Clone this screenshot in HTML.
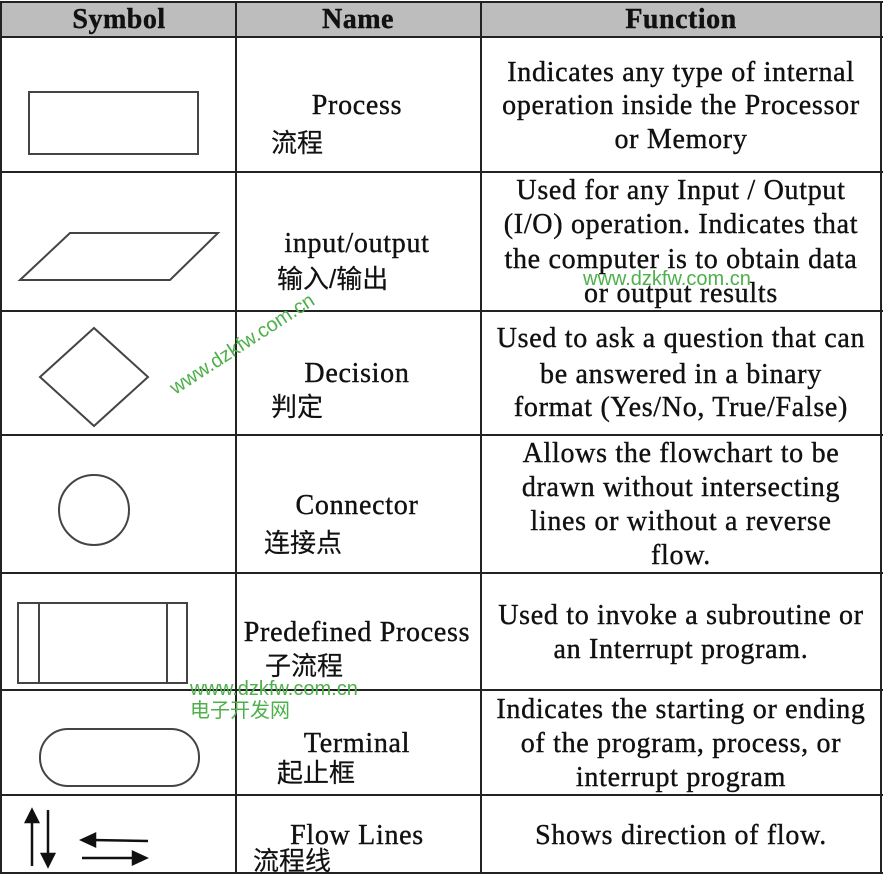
<!DOCTYPE html>
<html><head><meta charset="utf-8"><style>
body{margin:0;width:883px;height:878px;background:#fff;overflow:hidden;position:relative;font-family:"Liberation Serif","Noto Serif CJK SC",serif;color:#111}
.t{position:absolute;font-size:28px;letter-spacing:0.7px;white-space:nowrap;line-height:1;-webkit-text-stroke:0.4px #111}
.c{transform:translateX(-50%)}
.h{font-weight:bold;font-size:28px;letter-spacing:0.5px}
.z{font-family:"Liberation Sans","Noto Sans CJK SC",sans-serif;font-size:26px;letter-spacing:0;-webkit-text-stroke:0.2px #111}
.w{position:absolute;color:#4db04a;font-family:"Liberation Sans","Noto Sans CJK SC",sans-serif;font-size:20px;white-space:nowrap;line-height:1}
</style></head><body>
<svg width="883" height="878" style="position:absolute;left:0;top:0">
<rect x="1" y="2" width="880" height="35" fill="#bdbdbd"/>
<g stroke="#222" stroke-width="2" fill="none">
<line x1="0" y1="2" x2="883" y2="2"/><line x1="0" y1="37" x2="883" y2="37"/>
<line x1="0" y1="172" x2="883" y2="172"/><line x1="0" y1="311" x2="883" y2="311"/>
<line x1="0" y1="435" x2="883" y2="435"/><line x1="0" y1="573" x2="883" y2="573"/>
<line x1="0" y1="690" x2="883" y2="690"/><line x1="0" y1="795" x2="883" y2="795"/>
<line x1="0" y1="873" x2="883" y2="873"/>
<line x1="1" y1="2" x2="1" y2="873"/><line x1="236" y1="2" x2="236" y2="873"/>
<line x1="481" y1="2" x2="481" y2="873"/><line x1="881" y1="2" x2="881" y2="873"/>
</g>
<g stroke="#444" stroke-width="2" fill="none">
<rect x="29" y="92" width="169" height="62"/>
<polygon points="20,280 70,233 218,233 170,280"/>
<polygon points="40,377 94,328 148,377 94,426"/>
<circle cx="94" cy="510" r="35"/>
<rect x="18" y="603" width="169" height="80"/>
<line x1="39" y1="603" x2="39" y2="683"/><line x1="167" y1="603" x2="167" y2="683"/>
<rect x="40" y="729" width="159" height="57" rx="28"/>
</g>
<g stroke="#111" stroke-width="2.5" fill="#111">
<line x1="32" y1="866" x2="32" y2="818"/><polygon points="26,822 32,810 38,822"/>
<line x1="48" y1="810" x2="48" y2="858"/><polygon points="42,854 48,866 54,854"/>
<line x1="148" y1="841" x2="92" y2="840"/><polygon points="95,834 82,840 95,846"/>
<line x1="82" y1="858" x2="136" y2="858"/><polygon points="133,852 146,858 133,864"/>
</g>
</svg>
<div class="t h c" style="left:119px;top:6px">Symbol</div>
<div class="t h c" style="left:358px;top:6px">Name</div>
<div class="t h c" style="left:681px;top:6px">Function</div>

<div class="t c" style="left:357px;top:92px">Process</div>
<div class="t z" style="left:271px;top:130px">流程</div>
<div class="t c" style="left:357px;top:230px">input/output</div>
<div class="t z" style="left:277px;top:266px">输入/输出</div>
<div class="t c" style="left:357px;top:360px">Decision</div>
<div class="t z" style="left:271px;top:394px">判定</div>
<div class="t c" style="left:357px;top:492px">Connector</div>
<div class="t z" style="left:264px;top:530px">连接点</div>
<div class="t c" style="left:357px;top:619px">Predefined Process</div>
<div class="t z" style="left:265px;top:653px">子流程</div>
<div class="t c" style="left:357px;top:730px">Terminal</div>
<div class="t z" style="left:277px;top:760px">起止框</div>
<div class="t c" style="left:357px;top:822px">Flow Lines</div>
<div class="t z" style="left:253px;top:848px">流程线</div>

<div class="t c" style="left:681px;top:59px">Indicates any type of internal</div>
<div class="t c" style="left:681px;top:92px">operation inside the Processor</div>
<div class="t c" style="left:681px;top:126px">or Memory</div>
<div class="t c" style="left:681px;top:177px">Used for any Input / Output</div>
<div class="t c" style="left:681px;top:211px">(I/O) operation. Indicates that</div>
<div class="t c" style="left:681px;top:246px">the computer is to obtain data</div>
<div class="t c" style="left:681px;top:280px">or output results</div>
<div class="t c" style="left:681px;top:325px">Used to ask a question that can</div>
<div class="t c" style="left:681px;top:361px">be answered in a binary</div>
<div class="t c" style="left:681px;top:394px">format (Yes/No, True/False)</div>
<div class="t c" style="left:681px;top:440px">Allows the flowchart to be</div>
<div class="t c" style="left:681px;top:474px">drawn without intersecting</div>
<div class="t c" style="left:681px;top:508px">lines or without a reverse</div>
<div class="t c" style="left:681px;top:542px">flow.</div>
<div class="t c" style="left:681px;top:602px">Used to invoke a subroutine or</div>
<div class="t c" style="left:681px;top:636px">an Interrupt program.</div>
<div class="t c" style="left:681px;top:696px">Indicates the starting or ending</div>
<div class="t c" style="left:681px;top:730px">of the program, process, or</div>
<div class="t c" style="left:681px;top:764px">interrupt program</div>
<div class="t c" style="left:681px;top:822px">Shows direction of flow.</div>

<div class="w" style="left:583px;top:269px">www.dzkfw.com.cn</div>
<div class="w" style="left:190px;top:679px">www.dzkfw.com.cn</div>
<div class="w" style="left:190px;top:701px">电子开发网</div>
<div class="w" style="left:172px;top:380px;transform:rotate(-33deg);transform-origin:0 50%">www.dzkfw.com.cn</div>
</body></html>
